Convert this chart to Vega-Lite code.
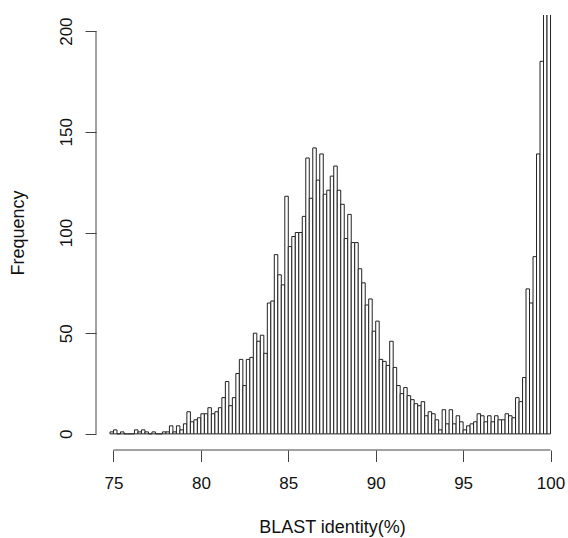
{
  "$schema": "https://vega.github.io/schema/vega-lite/v6.json",
  "width": 472,
  "height": 435,
  "autosize": "none",
  "padding": {"left": 96, "top": 15, "right": 0, "bottom": 88},
  "config": {"view": {"stroke": null}, "font": "Liberation Sans"},
  "layer": [
    {
      "data": {"values": [
        {"start": 74.8, "end": 75.0, "count": 1},
        {"start": 75.0, "end": 75.2, "count": 2},
        {"start": 75.2, "end": 75.4, "count": 0},
        {"start": 75.4, "end": 75.6, "count": 1},
        {"start": 75.6, "end": 75.8, "count": 0},
        {"start": 75.8, "end": 76.0, "count": 0},
        {"start": 76.0, "end": 76.2, "count": 0},
        {"start": 76.2, "end": 76.4, "count": 2},
        {"start": 76.4, "end": 76.6, "count": 1},
        {"start": 76.6, "end": 76.8, "count": 2},
        {"start": 76.8, "end": 77.0, "count": 1},
        {"start": 77.0, "end": 77.2, "count": 0},
        {"start": 77.2, "end": 77.4, "count": 1},
        {"start": 77.4, "end": 77.6, "count": 0},
        {"start": 77.6, "end": 77.8, "count": 0},
        {"start": 77.8, "end": 78.0, "count": 1},
        {"start": 78.0, "end": 78.2, "count": 1},
        {"start": 78.2, "end": 78.4, "count": 4},
        {"start": 78.4, "end": 78.6, "count": 1},
        {"start": 78.6, "end": 78.8, "count": 4},
        {"start": 78.8, "end": 79.0, "count": 2},
        {"start": 79.0, "end": 79.2, "count": 5},
        {"start": 79.2, "end": 79.4, "count": 11},
        {"start": 79.4, "end": 79.6, "count": 6},
        {"start": 79.6, "end": 79.8, "count": 7},
        {"start": 79.8, "end": 80.0, "count": 8},
        {"start": 80.0, "end": 80.2, "count": 10},
        {"start": 80.2, "end": 80.4, "count": 10},
        {"start": 80.4, "end": 80.6, "count": 13},
        {"start": 80.6, "end": 80.8, "count": 10},
        {"start": 80.8, "end": 81.0, "count": 11},
        {"start": 81.0, "end": 81.2, "count": 13},
        {"start": 81.2, "end": 81.4, "count": 18},
        {"start": 81.4, "end": 81.6, "count": 26},
        {"start": 81.6, "end": 81.8, "count": 14},
        {"start": 81.8, "end": 82.0, "count": 18},
        {"start": 82.0, "end": 82.2, "count": 30},
        {"start": 82.2, "end": 82.4, "count": 37},
        {"start": 82.4, "end": 82.6, "count": 24},
        {"start": 82.6, "end": 82.8, "count": 37},
        {"start": 82.8, "end": 83.0, "count": 38},
        {"start": 83.0, "end": 83.2, "count": 50},
        {"start": 83.2, "end": 83.4, "count": 46},
        {"start": 83.4, "end": 83.6, "count": 49},
        {"start": 83.6, "end": 83.8, "count": 40},
        {"start": 83.8, "end": 84.0, "count": 65},
        {"start": 84.0, "end": 84.2, "count": 66},
        {"start": 84.2, "end": 84.4, "count": 89},
        {"start": 84.4, "end": 84.6, "count": 79},
        {"start": 84.6, "end": 84.8, "count": 74},
        {"start": 84.8, "end": 85.0, "count": 118},
        {"start": 85.0, "end": 85.2, "count": 93},
        {"start": 85.2, "end": 85.4, "count": 98},
        {"start": 85.4, "end": 85.6, "count": 100},
        {"start": 85.6, "end": 85.8, "count": 100},
        {"start": 85.8, "end": 86.0, "count": 108},
        {"start": 86.0, "end": 86.2, "count": 137},
        {"start": 86.2, "end": 86.4, "count": 117},
        {"start": 86.4, "end": 86.6, "count": 142},
        {"start": 86.6, "end": 86.8, "count": 126},
        {"start": 86.8, "end": 87.0, "count": 139},
        {"start": 87.0, "end": 87.2, "count": 119},
        {"start": 87.2, "end": 87.4, "count": 121},
        {"start": 87.4, "end": 87.6, "count": 128},
        {"start": 87.6, "end": 87.8, "count": 133},
        {"start": 87.8, "end": 88.0, "count": 121},
        {"start": 88.0, "end": 88.2, "count": 114},
        {"start": 88.2, "end": 88.4, "count": 97},
        {"start": 88.4, "end": 88.6, "count": 109},
        {"start": 88.6, "end": 88.8, "count": 95},
        {"start": 88.8, "end": 89.0, "count": 95},
        {"start": 89.0, "end": 89.2, "count": 82},
        {"start": 89.2, "end": 89.4, "count": 75},
        {"start": 89.4, "end": 89.6, "count": 64},
        {"start": 89.6, "end": 89.8, "count": 67},
        {"start": 89.8, "end": 90.0, "count": 51},
        {"start": 90.0, "end": 90.2, "count": 56},
        {"start": 90.2, "end": 90.4, "count": 37},
        {"start": 90.4, "end": 90.6, "count": 36},
        {"start": 90.6, "end": 90.8, "count": 34},
        {"start": 90.8, "end": 91.0, "count": 46},
        {"start": 91.0, "end": 91.2, "count": 33},
        {"start": 91.2, "end": 91.4, "count": 24},
        {"start": 91.4, "end": 91.6, "count": 20},
        {"start": 91.6, "end": 91.8, "count": 23},
        {"start": 91.8, "end": 92.0, "count": 19},
        {"start": 92.0, "end": 92.2, "count": 17},
        {"start": 92.2, "end": 92.4, "count": 15},
        {"start": 92.4, "end": 92.6, "count": 14},
        {"start": 92.6, "end": 92.8, "count": 16},
        {"start": 92.8, "end": 93.0, "count": 9},
        {"start": 93.0, "end": 93.2, "count": 11},
        {"start": 93.2, "end": 93.4, "count": 10},
        {"start": 93.4, "end": 93.6, "count": 7},
        {"start": 93.6, "end": 93.8, "count": 2},
        {"start": 93.8, "end": 94.0, "count": 12},
        {"start": 94.0, "end": 94.2, "count": 5},
        {"start": 94.2, "end": 94.4, "count": 12},
        {"start": 94.4, "end": 94.6, "count": 5},
        {"start": 94.6, "end": 94.8, "count": 9},
        {"start": 94.8, "end": 95.0, "count": 6},
        {"start": 95.0, "end": 95.2, "count": 2},
        {"start": 95.2, "end": 95.4, "count": 4},
        {"start": 95.4, "end": 95.6, "count": 5},
        {"start": 95.6, "end": 95.8, "count": 6},
        {"start": 95.8, "end": 96.0, "count": 10},
        {"start": 96.0, "end": 96.2, "count": 9},
        {"start": 96.2, "end": 96.4, "count": 6},
        {"start": 96.4, "end": 96.6, "count": 9},
        {"start": 96.6, "end": 96.8, "count": 6},
        {"start": 96.8, "end": 97.0, "count": 9},
        {"start": 97.0, "end": 97.2, "count": 7},
        {"start": 97.2, "end": 97.4, "count": 7},
        {"start": 97.4, "end": 97.6, "count": 10},
        {"start": 97.6, "end": 97.8, "count": 9},
        {"start": 97.8, "end": 98.0, "count": 8},
        {"start": 98.0, "end": 98.2, "count": 18},
        {"start": 98.2, "end": 98.4, "count": 16},
        {"start": 98.4, "end": 98.6, "count": 28},
        {"start": 98.6, "end": 98.8, "count": 72},
        {"start": 98.8, "end": 99.0, "count": 65},
        {"start": 99.0, "end": 99.2, "count": 88},
        {"start": 99.2, "end": 99.4, "count": 139},
        {"start": 99.4, "end": 99.6, "count": 185},
        {"start": 99.6, "end": 99.8, "count": 320},
        {"start": 99.8, "end": 100.0, "count": 900}
      ]},
      "mark": {"type": "rect", "fill": "#ffffff", "stroke": "#222222", "strokeWidth": 1, "clip": true},
      "encoding": {
        "x": {
          "field": "start", "type": "quantitative",
          "scale": {"domain": [74, 101], "nice": false, "zero": false},
          "axis": {
            "values": [75, 80, 85, 90, 95, 100],
            "domain": false, "grid": false,
            "tickSize": 11.5, "tickColor": "#444", "tickWidth": 1,
            "labelFontSize": 17, "labelColor": "#111", "labelPadding": 14,
            "labelFlush": false, "labelOverlap": false,
            "title": "BLAST identity(%)", "titleFontSize": 18, "titleFontWeight": "normal",
            "titleColor": "#111", "titlePadding": 27
          }
        },
        "x2": {"field": "end"},
        "y": {
          "field": "count", "type": "quantitative",
          "scale": {"domain": [-8, 208], "nice": false, "zero": false},
          "axis": {
            "values": [0, 50, 100, 150, 200],
            "domain": false, "grid": false,
            "tickSize": 11, "tickColor": "#444", "tickWidth": 1,
            "labelFontSize": 17, "labelColor": "#111", "labelAngle": -90,
            "labelAlign": "center", "labelBaseline": "bottom", "labelPadding": 10,
            "labelFlush": false, "labelOverlap": false,
            "title": "Frequency", "titleFontSize": 18, "titleFontWeight": "normal",
            "titleColor": "#111", "titlePadding": 30
          }
        },
        "y2": {"datum": 0}
      }
    },
    {
      "data": {"values": [{"a": 75, "b": 100, "y": -8}]},
      "mark": {"type": "rule", "color": "#444", "strokeWidth": 1},
      "encoding": {
        "x": {"field": "a", "type": "quantitative", "axis": {"title": "BLAST identity(%)"}},
        "x2": {"field": "b"},
        "y": {"field": "y", "type": "quantitative", "axis": {"title": "Frequency"}}
      }
    },
    {
      "data": {"values": [{"x": 74, "lo": 0, "hi": 200}]},
      "mark": {"type": "rule", "color": "#444", "strokeWidth": 1},
      "encoding": {
        "x": {"field": "x", "type": "quantitative", "axis": {"title": "BLAST identity(%)"}},
        "y": {"field": "lo", "type": "quantitative", "axis": {"title": "Frequency"}},
        "y2": {"field": "hi"}
      }
    }
  ]
}
